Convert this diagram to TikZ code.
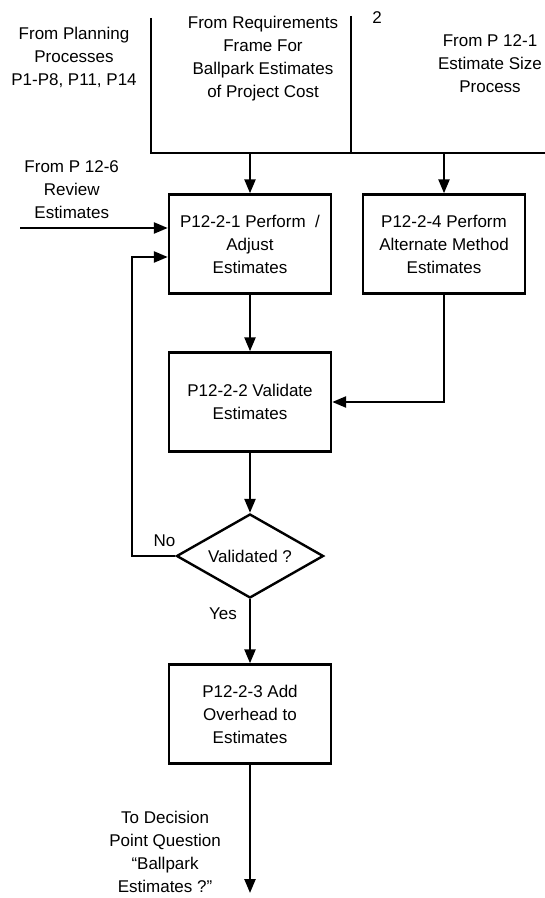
\documentclass[tikz,border=0pt]{standalone}
\usepackage{fontspec}
\setmainfont{Liberation Sans}
\usepackage{tikz}
\usetikzlibrary{shapes.geometric,arrows.meta}
\tikzstyle{process}=[rectangle,draw=black,line width=1.2pt,minimum width=81pt,minimum height=49.5pt,inner sep=0pt,align=center]
\tikzstyle{check}=[diamond,draw=black,line width=1.2pt,minimum width=73.5pt,minimum height=42pt,inner sep=0pt,aspect=1.75]
\tikzstyle{note}=[align=center,inner sep=0pt]

\begin{document}
\begin{tikzpicture}[x=1pt,y=1pt,line width=1.2pt,>={Triangle[length=7pt,width=5.5pt]},
    font=\fontsize{8.5pt}{11.5pt}\selectfont]
      \useasboundingbox (0,0) rectangle (272.5,-449);
      \node [process] (perform) at (125,-122) {P12-2-1 Perform\ \ /\\Adjust\\Estimates};
      \node [process] (alternate) [right of=perform, node distance=97pt] {P12-2-4 Perform\\Alternate Method\\Estimates};
      \node [process] (validate) [below of=perform, node distance=79pt] {P12-2-2 Validate\\Estimates};
      \node [check] (validated) [below of=validate, node distance=77pt] {Validated ?};
      \node [process] (overhead) [below of=validated, node distance=79pt] {P12-2-3 Add\\Overhead to\\Estimates};

      \node [note] (planning) at (37,-28.5) {From Planning\\Processes\\P1-P8, P11, P14};
      \node [note] (reqframe) at (131.5,-29.5) {From Requirements\\Frame For\\Ballpark Estimates\\of Project Cost};
      \node [note] (sheet) at (188.5,-9) {2};
      \node [note] (sizeproc) at (245,-31.75) {From P 12-1\\Estimate Size\\Process};
      \coordinate (planfeed) at (75.5,-9);
      \coordinate (reqfeed) at (175.5,-8);
      \coordinate (busleft) at (75.5,-76.5);
      \coordinate (busright) at (272.5,-76.5);
      \draw (planfeed) -- (busleft) -- (busright);
      \draw (reqfeed) -- (reqfeed |- busleft);
      \draw [->] (perform.north |- busleft) -- (perform);
      \draw [->] (alternate.north |- busleft) -- (alternate);

      \coordinate (reviewin) at (10,-114);
      \draw [->] (reviewin) -- node [note, above=4pt, pos=0.35] (review) {From P 12-6\\Review\\Estimates} (reviewin -| perform.west);
      \coordinate (back) at (66,-128.5);
      \draw [->] (validated.west) -- node [note, above=4pt, pos=0.25] (no) {No} (validated.west -| back) |- (back -| perform.west);

      \draw [->] (perform) -- (validate);
      \draw [->] (alternate) |- (validate);
      \draw [->] (validate) -- (validated);
      \draw [->] (validated) -- node [note, left=6pt, pos=0.22] (yes) {Yes} (overhead);
      \coordinate (exit) at (125,-446.5);
      \draw [->] (overhead) -- node [note, left=14pt, pos=0.68] (decision) {To Decision\\Point Question\\``Ballpark\\Estimates ?''} (exit);
    \end{tikzpicture}
\end{document}
